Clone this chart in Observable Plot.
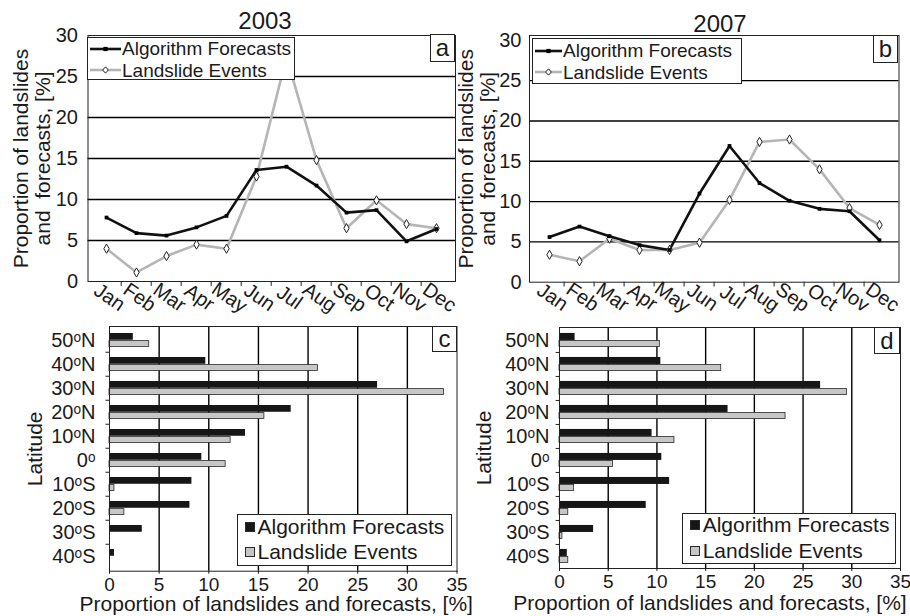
<!DOCTYPE html>
<html>
<head>
<meta charset="utf-8">
<script src="https://cdn.jsdelivr.net/npm/d3@7"></script>
<script src="https://cdn.jsdelivr.net/npm/@observablehq/plot@0.6"></script>
<style>
  html, body { margin: 0; padding: 0; background: #fff; }
  #chart { position: relative; width: 910px; height: 616px; overflow: hidden;
           font-family: "Liberation Sans", Arial, sans-serif; color: #1a1a1a; background: #fff; }
  #chart svg { overflow: visible; }
  .box { position: absolute; box-sizing: border-box; border: 1px solid #222; background: #fff; }
  .txt { position: absolute; white-space: nowrap; }
</style>
</head>
<body>
<div id="chart"></div>
<script>
// ---------------- data ----------------
const months = ["Jan","Feb","Mar","Apr","May","Jun","Jul","Aug","Sep","Oct","Nov","Dec"];
const forecasts2003 = [7.8, 5.9, 5.6, 6.6, 8.0, 13.6, 14.0, 11.7, 8.4, 8.7, 4.9, 6.4];
const events2003    = [4.0, 1.1, 3.1, 4.5, 4.0, 12.8, 27.4, 14.8, 6.5, 9.9, 7.0, 6.5];
const forecasts2007 = [5.6, 6.9, 5.7, 4.6, 4.0, 11.0, 16.9, 12.3, 10.1, 9.1, 8.8, 5.2];
const events2007    = [3.4, 2.6, 5.4, 4.0, 4.0, 4.9, 10.2, 17.4, 17.7, 14.0, 9.2, 7.1];

const latitudes = ["50ᵒN","40ᵒN","30ᵒN","20ᵒN","10ᵒN","0ᵒ","10ᵒS","20ᵒS","30ᵒS","40ᵒS"];
const latForecasts2003 = [2.4, 9.7, 27.0, 18.3, 13.7, 9.3, 8.3, 8.1, 3.3, 0.5];
const latEvents2003    = [4.0, 21.0, 33.7, 15.6, 12.2, 11.7, 0.5, 1.5, 0, 0];
const latForecasts2007 = [1.6, 10.4, 26.8, 17.3, 9.5, 10.5, 11.3, 8.9, 3.5, 0.8];
const latEvents2007    = [10.3, 16.6, 29.5, 23.2, 11.8, 5.5, 1.5, 0.9, 0.3, 0.9];

const seriesNames = ["Algorithm Forecasts", "Landslide Events"];
const years = ["2003", "2007"];
const panelLetters = ["a", "b", "c", "d"];
const lineYTicks = [0, 5, 10, 15, 20, 25, 30];
const barXTicks = [0, 5, 10, 15, 20, 25, 30, 35];
const lineYLabel = "Proportion of landslides\nand  forecasts, [%]";
const barYLabel = "Latitude";
const barXLabel = "Proportion of landslides and forecasts, [%]";

// ---------------- helpers ----------------
const chart = document.getElementById("chart");
const FONT = "'Liberation Sans', Arial, sans-serif";
const INK = "#1a1a1a";
const GRAY_LINE = "#b5b5b5";
const GRAY_BAR = "#c6c6c6";

function place(el, left, top) {
  el.style.position = "absolute";
  el.style.left = left + "px";
  el.style.top = top + "px";
  chart.appendChild(el);
  return el;
}
function textDiv(str, left, capCenter, size) {
  const d = document.createElement("div");
  d.className = "txt";
  d.textContent = str;
  d.style.fontSize = size + "px";
  d.style.lineHeight = size + "px";
  d.style.left = left + "px";
  d.style.top = (capCenter - 0.4885 * size) + "px";
  chart.appendChild(d);
  return d;
}
function boxDiv(left, top, w, h) {
  const d = document.createElement("div");
  d.className = "box";
  d.style.left = left + "px"; d.style.top = top + "px";
  d.style.width = w + "px"; d.style.height = h + "px";
  chart.appendChild(d);
  return d;
}
function letterBox(letter, left, top, w, h) {
  const d = boxDiv(left, top, w, h);
  d.style.display = "flex"; d.style.alignItems = "center"; d.style.justifyContent = "center";
  d.style.fontSize = "24px"; d.style.lineHeight = "24px";
  d.textContent = letter;
}
const style = {background: "transparent", fontFamily: FONT, fontSize: "20px", color: INK, overflow: "visible"};

// ---------------- line panels ----------------
function linePlot({forecasts, events, width, height, ml, mr, mt, mb, ymax, tickPad, labelDx, monthDy}) {
  const rows = months.map((m, i) => ({month: m, f: forecasts[i], e: events[i]}));
  const step = (width - ml - mr) / months.length;
  return Plot.plot({
    width, height, marginLeft: ml, marginRight: mr, marginTop: mt, marginBottom: mb,
    style,
    x: {type: "point", domain: months, padding: 0.5, axis: null},
    y: {domain: [0, ymax], axis: null},
    marks: [
      Plot.ruleY(lineYTicks.filter(t => t > 0 && t < 30), {stroke: "#000", strokeWidth: 1.4}),
      Plot.frame({stroke: "#222", strokeWidth: 1}),
      Plot.ruleX(months.slice(1), {x: d => d, dx: -step / 2, y1: 0, y2: -0.6, stroke: "#222"}),
      Plot.axisY(lineYTicks, {tickSize: 0, tickPadding: tickPad, label: null}),
      Plot.text(months, {x: d => d, frameAnchor: "bottom", lineAnchor: "middle", textAnchor: "middle",
        rotate: 35, dy: monthDy, dx: 3, fontSize: 20}),
      Plot.line(rows, {x: "month", y: "e", stroke: GRAY_LINE, strokeWidth: 2.6}),
      Plot.line(rows, {x: "month", y: "f", stroke: "#111", strokeWidth: 2.6}),
      Plot.dot(rows, {x: "month", y: "e", symbol: "diamond", r: 2.8, fill: "#fff", stroke: "#222", strokeWidth: 1}),
      Plot.dot(rows, {x: "month", y: "f", symbol: "square", r: 2.1, fill: "#000"}),
      Plot.text([lineYLabel], {frameAnchor: "left", textAnchor: "middle", lineAnchor: "middle",
        rotate: -90, dx: labelDx, fontSize: 21, lineHeight: 1.05})
    ]
  });
}

// ---------------- bar panels ----------------
function barPlot({forecasts, events, width, height, ml, mr, mt, mb, tickPad, xTickGap, latDx, titleDx, titleDy}) {
  const rows = latitudes.map((lat, i) => ({lat, f: forecasts[i], e: events[i]}));
  const bw = (height - mt - mb) / latitudes.length;
  return Plot.plot({
    width, height, marginLeft: ml, marginRight: mr, marginTop: mt, marginBottom: mb,
    style,
    x: {domain: [0, 35], axis: null},
    y: {type: "band", domain: latitudes, padding: 0, axis: null},
    marks: [
      Plot.ruleX(barXTicks.filter(t => t > 0 && t < 35), {stroke: "#000", strokeWidth: 1.4}),
      Plot.barX(rows.filter(d => d.f > 0), {y: "lat", x1: 0, x2: "f", fill: "#161616",
        insetTop: bw * 0.205, insetBottom: bw * 0.5}),
      Plot.barX(rows.filter(d => d.e > 0), {y: "lat", x1: 0, x2: "e", fill: GRAY_BAR, stroke: "#2a2a2a", strokeWidth: 0.8,
        insetTop: bw * 0.515, insetBottom: bw * 0.225}),
      Plot.frame({stroke: "#222", strokeWidth: 1}),
      Plot.ruleY(latitudes.slice(1), {y: d => d, dy: -bw / 2, x1: 0, x2: -0.35, stroke: "#222"}),
      Plot.axisX(barXTicks, {tickSize: 3, tickPadding: xTickGap, label: null, textAnchor: "middle", fontSize: 19}),
      Plot.axisY({tickSize: 0, tickPadding: tickPad, label: null}),
      Plot.text([barYLabel], {frameAnchor: "left", textAnchor: "middle", lineAnchor: "middle",
        rotate: -90, dx: latDx, fontSize: 21}),
      Plot.text([barXLabel], {frameAnchor: "bottom", textAnchor: "middle", lineAnchor: "middle",
        dx: titleDx, dy: titleDy, fontSize: 21})
    ]
  });
}

// ---------------- assemble ----------------
place(linePlot({forecasts: forecasts2003, events: events2003, width: 460, height: 310,
  ml: 87.5, mr: 5, mt: 35, mb: 29, ymax: 30, tickPad: 10, labelDx: -56, monthDy: 16}), 0, 0);
place(linePlot({forecasts: forecasts2007, events: events2007, width: 455, height: 310,
  ml: 74, mr: 11.5, mt: 35, mb: 28.3, ymax: 30.6, tickPad: 8, labelDx: -53, monthDy: 15}), 455, 0);
place(barPlot({forecasts: latForecasts2003, events: latEvents2003, width: 460, height: 316,
  ml: 109, mr: 3.5, mt: 26, mb: 45.3, tickPad: 14, xTickGap: 3.5, latDx: -74.5, titleDx: -7, titleDy: 33}), 0, 300);
place(barPlot({forecasts: latForecasts2007, events: latEvents2007, width: 455, height: 316,
  ml: 104, mr: 10, mt: 27, mb: 48, tickPad: 10, xTickGap: 2.5, latDx: -75.5, titleDx: -20, titleDy: 34.5}), 455, 300);

// titles
[[years[0], 265, 29], [years[1], 720, 32]].forEach(([t, cx, base]) => {
  const d = document.createElement("div");
  d.className = "txt";
  d.textContent = t;
  d.style.fontSize = "24px"; d.style.lineHeight = "24px";
  d.style.left = (cx - 40) + "px"; d.style.width = "80px"; d.style.textAlign = "center";
  d.style.top = (base - 0.8465 * 24) + "px";
  chart.appendChild(d);
});

// line legends
function lineIcon(i, x0, x1, cy) {
  const ns = "http://www.w3.org/2000/svg";
  const svg = document.createElementNS(ns, "svg");
  svg.setAttribute("width", x1 - x0); svg.setAttribute("height", 12);
  svg.style.position = "absolute"; svg.style.left = x0 + "px"; svg.style.top = (cy - 6) + "px";
  svg.style.overflow = "visible";
  const w = x1 - x0;
  const line = document.createElementNS(ns, "line");
  line.setAttribute("x1", 0); line.setAttribute("x2", w); line.setAttribute("y1", 6); line.setAttribute("y2", 6);
  line.setAttribute("stroke", i === 0 ? "#111" : GRAY_LINE); line.setAttribute("stroke-width", 2.6);
  svg.appendChild(line);
  const m = document.createElementNS(ns, "path");
  const c = w / 2;
  if (i === 0) {
    m.setAttribute("d", `M${c-2.1},3.9h4.2v4.2h-4.2z`); m.setAttribute("fill", "#000");
  } else {
    m.setAttribute("d", `M${c},2.8L${c+2.8},6L${c},9.2L${c-2.8},6z`); m.setAttribute("fill", "#fff");
    m.setAttribute("stroke", "#222"); m.setAttribute("stroke-width", 1);
  }
  svg.appendChild(m);
  chart.appendChild(svg);
}
[
  {box: [87, 37, 208, 43], rows: [48.5, 70], icon: [90, 121], tx: 122, size: 19},
  {box: [532, 38, 210, 46], rows: [50.7, 72], icon: [535, 562], tx: 563, size: 19}
].forEach(L => {
  boxDiv(...L.box);
  seriesNames.forEach((name, i) => {
    lineIcon(i, L.icon[0], L.icon[1], L.rows[i]);
    textDiv(name, L.tx, L.rows[i], L.size);
  });
});

// bar legends
[
  {box: [237, 514, 215, 52], rows: [526.5, 551.7], sx: 245, tx: 257.5, size: 21},
  {box: [682, 513, 214, 51], rows: [524.5, 550.5], sx: 689.5, tx: 702.7, size: 21}
].forEach(L => {
  boxDiv(...L.box);
  seriesNames.forEach((name, i) => {
    const s = document.createElement("div");
    s.style.position = "absolute"; s.style.boxSizing = "border-box";
    s.style.left = L.sx + "px"; s.style.top = (L.rows[i] - 5) + "px";
    s.style.width = "10px"; s.style.height = "10px";
    s.style.background = i === 0 ? "#161616" : GRAY_BAR;
    s.style.border = "1px solid #2a2a2a";
    chart.appendChild(s);
    textDiv(name, L.tx, L.rows[i], L.size);
  });
});

// panel letters
letterBox(panelLetters[0], 430, 34, 25, 28);
letterBox(panelLetters[1], 873, 35, 25, 28);
letterBox(panelLetters[2], 432, 326, 25, 26);
letterBox(panelLetters[3], 874, 327, 26, 27);
</script>
</body>
</html>
